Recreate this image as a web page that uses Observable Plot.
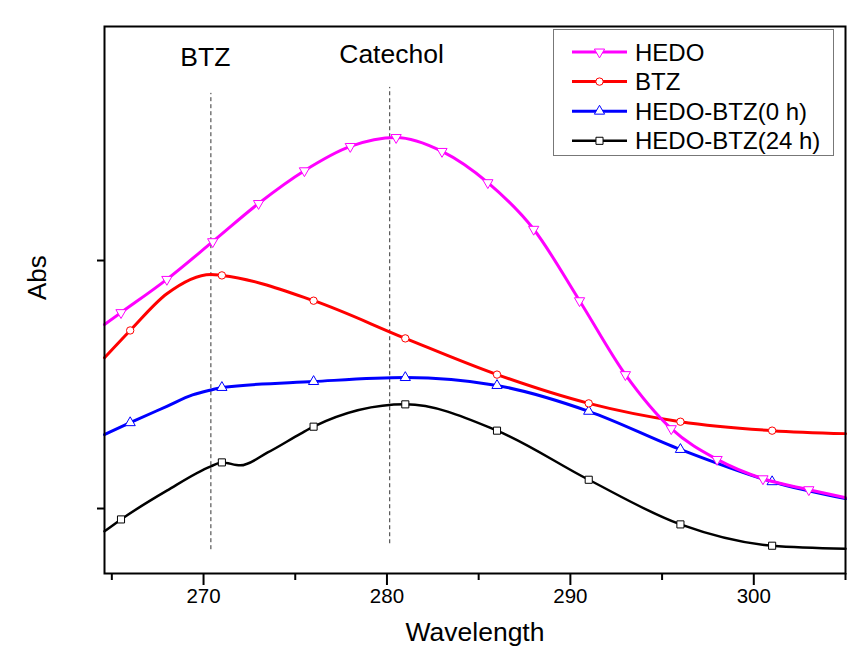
<!DOCTYPE html>
<html><head><meta charset="utf-8">
<script src="https://cdn.jsdelivr.net/npm/d3@7"></script>
<script src="https://cdn.jsdelivr.net/npm/@observablehq/plot@0.6"></script>
<style>
body{margin:0;background:#fff;}
#chart{width:851px;height:661px;position:relative;}
</style></head><body><div id="chart"></div>
<script>
// ---- data ----
const seriesNames = ["HEDO", "BTZ", "HEDO-BTZ(0 h)", "HEDO-BTZ(24 h)"];
const seriesColors = ["#ff00ff", "#ff0000", "#0000ff", "#000000"];

const wavelengthHEDO = [264.6,265.5,268,270.5,273,275.5,278,280.5,283,285.5,288,290.5,293,295.5,298,300.5,303,305];
const absHEDO =        [0.871,0.895,0.962,1.038,1.115,1.181,1.230,1.248,1.220,1.157,1.063,0.919,0.770,0.661,0.599,0.560,0.538,0.522];
const markersHEDO = [265.5,268,270.5,273,275.5,278,280.5,283,285.5,288,290.5,293,295.5,298,300.5,303];

const wavelengthBTZ = [264.6,266,268,270.4,271,276,281,286,291,296,301,305];
const absBTZ =        [0.804,0.859,0.933,0.972,0.970,0.919,0.843,0.770,0.712,0.675,0.657,0.651];
const markersBTZ = [266,271,276,281,286,291,296,301];

const wavelength0h = [264.6,266,268,269.4,270.4,271,276,281,286,291,296,301,305];
const abs0h =        [0.649,0.673,0.706,0.729,0.739,0.744,0.756,0.764,0.748,0.696,0.619,0.554,0.520];
const markers0h = [266,271,276,281,286,291,296,301];

const wavelength24h = [264.6,265.5,268,270.4,271,272,273.5,275.3,276,281,286,291,296,301,305];
const abs24h =        [0.454,0.478,0.536,0.585,0.593,0.587,0.613,0.651,0.665,0.710,0.657,0.558,0.468,0.425,0.419];
const markers24h = [265.5,271,276,281,286,291,296,301];

const majorTicks = [270, 280, 290, 300];
const minorTicks = [265, 275, 285, 295, 305];
const yTicks = [0.5, 1.0];

const peakLabels = ["BTZ", "Catechol"];
const peakLineX = [270.4, 280.15];
const peakLineBottom = [0.417, 0.429];
const peakLineTop = [1.337, 1.349];
const peakLabelX = [270.1, 280.25];
const peakLabelY = [1.410, 1.416];

// ---- build tables ----
const seriesData = [
  [wavelengthHEDO, absHEDO, markersHEDO],
  [wavelengthBTZ, absBTZ, markersBTZ],
  [wavelength0h, abs0h, markers0h],
  [wavelength24h, abs24h, markers24h]
];
const rows = [];
seriesData.forEach(([xs, ys, ms], i) => {
  xs.forEach((w, j) => rows.push({series: seriesNames[i], wavelength: w, abs: ys[j], marker: ms.includes(w)}));
});
const peaks = peakLabels.map((label, i) => ({label, x: peakLineX[i], y1: peakLineBottom[i], y2: peakLineTop[i], lx: peakLabelX[i], ly: peakLabelY[i]}));

const triangleDown = {
  draw(ctx, size) {
    const y = Math.sqrt(size / (Math.sqrt(3) * 3));
    ctx.moveTo(0, y * 2);
    ctx.lineTo(-Math.sqrt(3) * y, -y);
    ctx.lineTo(Math.sqrt(3) * y, -y);
    ctx.closePath();
  }
};
const symbols = [triangleDown, d3.symbolCircle, d3.symbolTriangle, d3.symbolSquare];
const radii = [3.8, 3.7, 3.8, 4.0];
const widths = [3, 3, 3, 2.5];

const lineMarks = [];
for (let i = seriesNames.length - 1; i >= 0; i--) {
  const d = rows.filter(r => r.series === seriesNames[i]);
  lineMarks.push(Plot.line(d, {x: "wavelength", y: "abs", stroke: seriesColors[i], strokeWidth: widths[i], curve: "monotone-x"}));
  lineMarks.push(Plot.dot(d.filter(r => r.marker), {x: "wavelength", y: "abs", symbol: symbols[i], r: radii[i], fill: "white", stroke: seriesColors[i], strokeWidth: 1}));
}

const chart = Plot.plot({
  width: 851, height: 661,
  marginLeft: 104, marginRight: 6, marginTop: 26, marginBottom: 88,
  x: {domain: [264.6, 305], axis: null},
  y: {domain: [0.369, 1.4718], axis: null},
  style: {fontFamily: "'Liberation Sans', Arial, sans-serif", background: "white", color: "black"},
  marks: [
    Plot.ruleX(peaks, {x: "x", y1: "y1", y2: "y2", stroke: "#333", strokeWidth: 1, strokeDasharray: "4,3"}),
    Plot.text(peaks, {x: "lx", y: "ly", text: "label", fontSize: 26.5, fill: "black"}),
    ...lineMarks,
    Plot.frame({stroke: "black", strokeWidth: 2}),
    Plot.axisX(majorTicks, {tickSize: 12, tickFormat: () => "", strokeWidth: 2, label: null}),
    Plot.axisX(minorTicks, {tickSize: 7, tickFormat: () => "", strokeWidth: 2, label: null}),
    Plot.text(majorTicks, {x: d => d, frameAnchor: "bottom", dy: 29, fontSize: 20.5, fill: "black"}),
    Plot.axisY(yTicks, {tickSize: 7, tickFormat: () => "", strokeWidth: 2, label: null}),
    Plot.text(["Wavelength"], {frameAnchor: "bottom", dy: 67, fontSize: 26.5, fill: "black"}),
    Plot.text(["Abs"], {frameAnchor: "left", dx: -67, rotate: -90, fontSize: 26, fill: "black"})
  ]
});
document.getElementById("chart").appendChild(chart);

// ---- legend inside the frame ----
const svg = d3.select(chart);
const lg = svg.append("g").attr("font-family", "'Liberation Sans', Arial, sans-serif");
lg.append("rect").attr("x", 553.5).attr("y", 29.5).attr("width", 280).attr("height", 126)
  .attr("fill", "white").attr("stroke", "#777").attr("stroke-width", 1);
seriesNames.forEach((name, i) => {
  const y = 52 + i * 29.6;
  lg.append("line").attr("x1", 572).attr("x2", 627).attr("y1", y).attr("y2", y)
    .attr("stroke", seriesColors[i]).attr("stroke-width", widths[i]);
  lg.append("path").attr("transform", `translate(599.5,${y})`)
    .attr("d", d3.symbol(symbols[i], Math.PI * radii[i] * radii[i])())
    .attr("fill", "white").attr("stroke", seriesColors[i]).attr("stroke-width", 1);
  lg.append("text").attr("x", 635).attr("y", y).attr("dy", "0.36em")
    .attr("text-anchor", "start").attr("font-size", 24).attr("fill", "black").text(name);
});
</script>
</body></html>
